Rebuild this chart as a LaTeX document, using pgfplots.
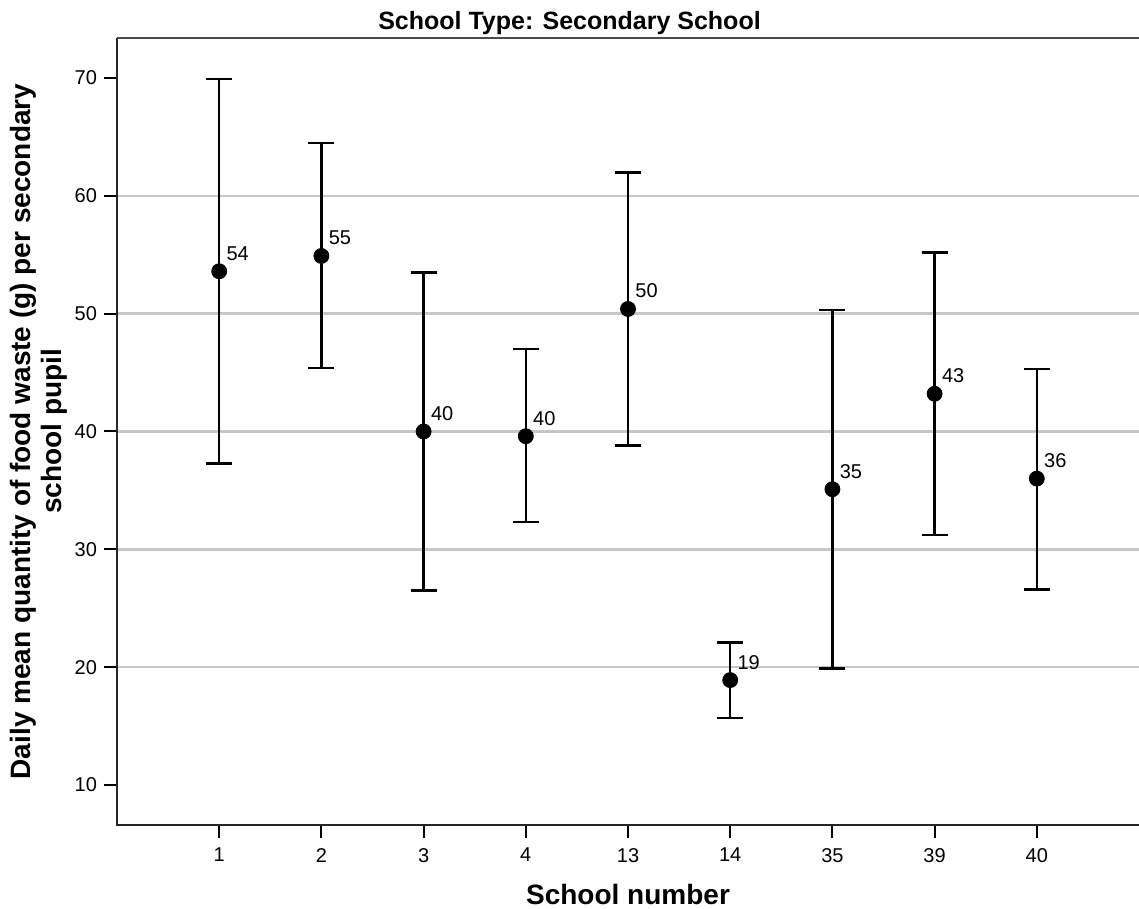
\documentclass[border=0pt]{standalone}
\usepackage{fontspec}
\setmainfont{Liberation Sans}
\usepackage{pgfplots}
\usepackage{pgfplotstable}
\pgfplotsset{compat=1.18}

\pgfplotstableread{
x y ep em lab
0 53.6 16.3 16.3 54
1 54.9 9.6 9.5 55
2 40.0 13.5 13.5 40
3 39.6 7.4 7.3 40
4 50.4 11.6 11.6 50
5 18.9 3.2 3.2 19
6 35.1 15.2 15.2 35
7 43.2 12.0 12.0 43
8 36.0 9.3 9.4 36
}\datatable

\begin{document}
\begin{tikzpicture}
\begin{axis}[
  scale only axis,
  width=511pt, height=393.5pt,
  at={(0,0)}, anchor=south west,
  xmin=-1, xmax=9,
  ymin=6.6, ymax=73.4,
  xtick={0,...,8},
  xticklabels={1,2,3,4,13,14,35,39,40},
  ytick={10,20,...,70},
  tick pos=left,
  tick align=outside,
  major tick length=6.5pt,
  tick style={line width=1pt, black},
  axis line style={draw=none},
  /pgf/number format/assume math mode=true,
  ticklabel style={font=\fontsize{10}{12}\selectfont},
  xticklabel style={yshift=-1.5pt},
  extra y ticks={20,30,40,50,60},
  extra y tick labels={},
  extra y tick style={grid=major, major grid style={black!22, line width=1.2pt}, tick style={draw=none}},
  clip=false,
  after end axis/.code={
    \draw[line width=1pt, black!85] (rel axis cs:0,1) -- (rel axis cs:0,0) -- (rel axis cs:1,0);
    \draw[line width=1pt, black!70] (rel axis cs:0,1) -- (rel axis cs:1,1);
  },
]
\addplot[only marks, mark=*, mark size=3.75pt, black,
  error bars/.cd, y dir=both, y explicit,
  error bar style={line width=1.2pt, black},
  error mark options={rotate=90, mark size=6.5pt, line width=1.2pt, black},
]
  table[x=x, y=y, y error plus=ep, y error minus=em] {\datatable};
\addplot[only marks, mark=none,
  nodes near coords, point meta=explicit symbolic,
  every node near coord/.append style={anchor=base west, xshift=3.5pt, yshift=5.5pt, inner sep=0pt, font=\fontsize{10}{12}\selectfont, text=black},
]
  table[x=x, y=y, meta=lab] {\datatable};
\end{axis}
\node[anchor=base, font=\fontsize{12.5}{15}\selectfont\bfseries] at (226.25pt,397.5pt) {School Type: Secondary School};
\node[anchor=base, font=\fontsize{14}{16}\selectfont\bfseries] at (255.5pt,-39.5pt) {School number};
\node[rotate=90, align=center, font=\fontsize{14}{15.5}\selectfont\bfseries] at (-39.25pt,196.75pt) {Daily mean quantity of food waste (g) per secondary\\school pupil};
\pgfresetboundingbox
\path[use as bounding box] (-58.5pt,-42pt) rectangle (511pt,412.5pt);
\end{tikzpicture}
\end{document}
